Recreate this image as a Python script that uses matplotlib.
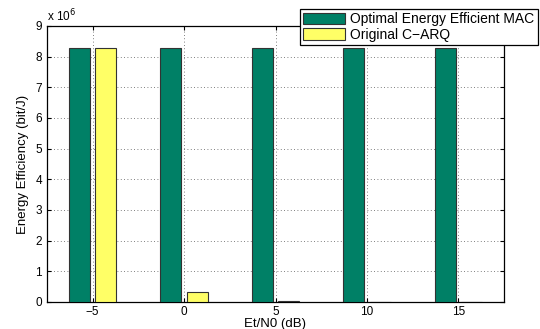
import numpy as np
import matplotlib
matplotlib.use('Agg')
import matplotlib.pyplot as plt

plt.rcParams['font.family'] = ['Liberation Sans', 'DejaVu Sans']

snr = [-5, 0, 5, 10, 15]
optimal_mac = [8.27e6, 8.27e6, 8.27e6, 8.27e6, 8.27e6]
original_carq = [8.27e6, 0.34e6, 0.02e6, 0.005e6, 0.003e6]
labels = ['Optimal Energy Efficient MAC', 'Original C\u2212ARQ']

fig = plt.figure(figsize=(5.4, 3.29), dpi=100)
ax = fig.add_axes([47/540, 1 - 302/329, 457/540, 276/329])

x = np.array(snr, dtype=float)
w = 1.15
ax.bar(x - 0.72, np.array(optimal_mac) / 1e6, width=w, color='#008066',
       edgecolor='#333333', linewidth=0.8, label=labels[0], zorder=3)
ax.bar(x + 0.72, np.array(original_carq) / 1e6, width=w, color='#ffff66',
       edgecolor='#333333', linewidth=0.8, label=labels[1], zorder=3)

ax.set_xlim(-7.5, 17.5)
ax.set_ylim(0, 9)
ax.set_xticks(snr)
ax.set_xticklabels([str(s).replace('-', '\u2212') for s in snr])
ax.set_yticks(range(10))
ax.grid(True, linestyle=(0, (1, 3)), color='#555555', linewidth=0.6, zorder=0)
ax.tick_params(direction='in', top=True, right=True, labelsize=8.5, length=3)
ax.tick_params(axis='x', pad=3)
for s in ax.spines.values():
    s.set_linewidth(0.9)

ax.text(0, 1.005, r'x 10$^6$', transform=ax.transAxes, fontsize=8.5, va='bottom')

ax.set_xlabel('Et/N0 (dB)', fontsize=9.5, va='center')
ax.xaxis.set_label_coords(0.5, -21.5 / 276)
ax.set_ylabel('Energy Efficiency (bit/J)', fontsize=9.5, labelpad=5)

leg = ax.legend(loc='upper right', bbox_to_anchor=(538/540, 1 - 9/329),
                bbox_transform=fig.transFigure, fontsize=10, fancybox=False,
                framealpha=1, edgecolor='black', borderpad=0.25,
                handlelength=3.0, handleheight=0.9, labelspacing=0.1,
                borderaxespad=0, handletextpad=0.4)
leg.get_frame().set_linewidth(0.9)
leg.set_zorder(10)

fig.savefig('out.png', dpi=100)
